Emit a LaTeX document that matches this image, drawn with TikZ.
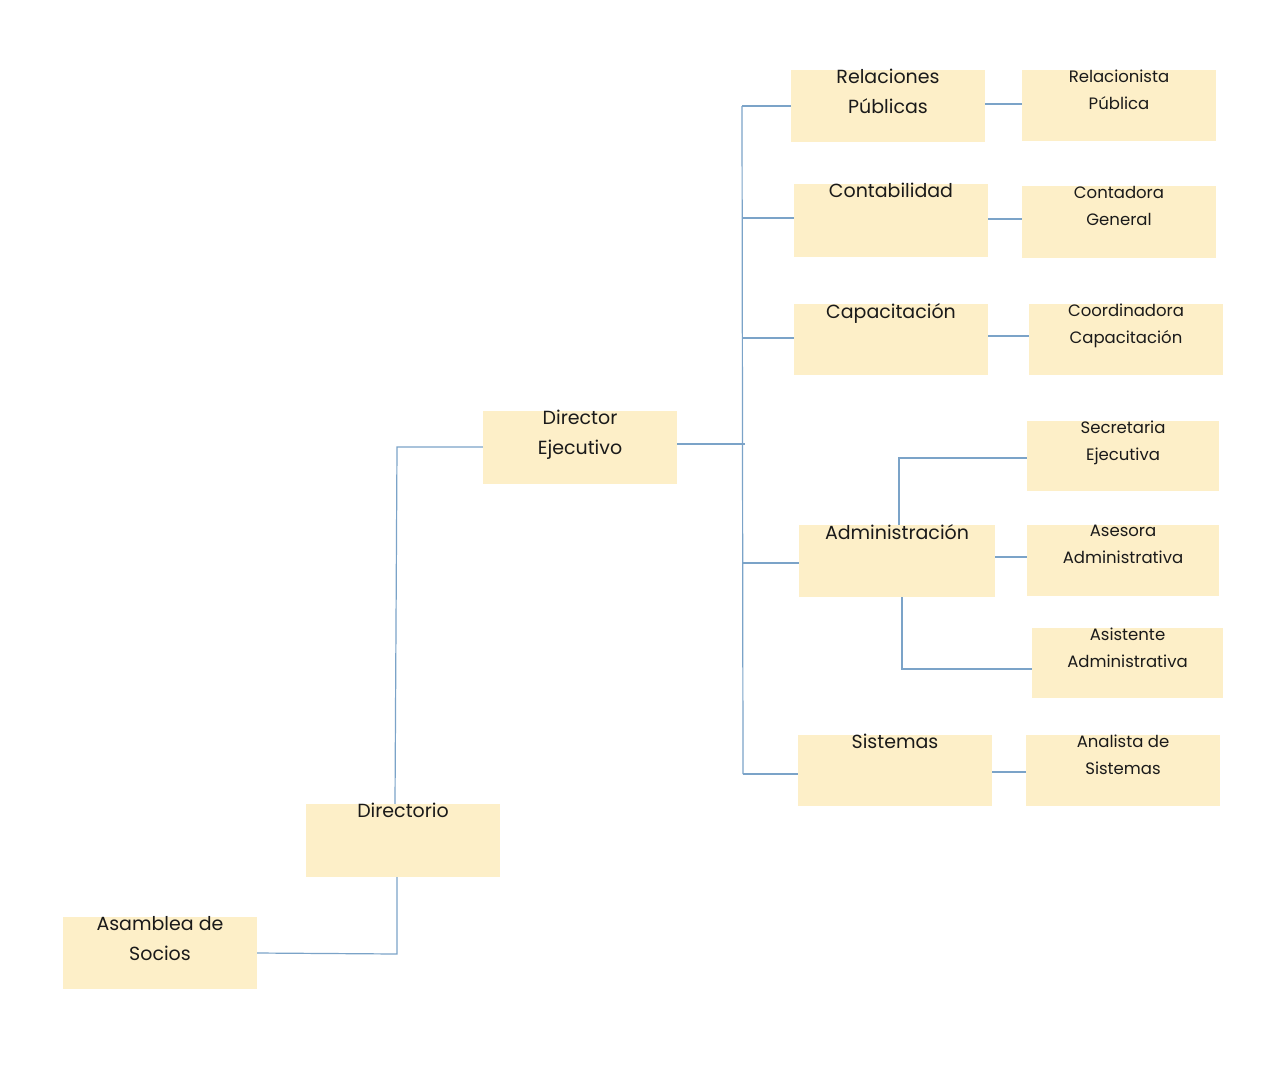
\documentclass[tikz,border=0pt]{standalone}
\usepackage{fontspec}
\setmainfont{Poppins}
\begin{document}
\begin{tikzpicture}[x=1pt,y=-1pt,
  bx/.style={fill=boxc,draw=none,inner sep=0pt},
  ln/.style={draw=linec,line width=1.2pt},
  big/.style={font=\fontsize{19}{30}\selectfont\color{txt},align=center,anchor=north},
  sm/.style={font=\fontsize{16.5}{27}\selectfont\color{txt},align=center,anchor=north}]
\definecolor{boxc}{HTML}{FDEFC8}
\definecolor{linec}{HTML}{7BA3C8}
\definecolor{txt}{HTML}{1A1A1A}
\useasboundingbox (0,0) rectangle (1274,1072);
\newcommand{\bxx}[6]{\node[bx,minimum width=#4-#2,minimum height=#5-#3] (#1) at ({(#2+#4)/2},{(#3+#5)/2}) {};}
\bxx{asa}{63}{917}{257}{989}{}
\bxx{dir}{306}{804}{500}{877}{}
\bxx{de}{483}{411}{677}{484}{}
\bxx{rp}{791}{70}{985}{142}{}
\bxx{rpa}{1022}{70}{1216}{141}{}
\bxx{con}{794}{184}{988}{257}{}
\bxx{cg}{1022}{186}{1216}{258}{}
\bxx{cap}{794}{304}{988}{375}{}
\bxx{cc}{1029}{304}{1223}{375}{}
\bxx{se}{1027}{421}{1219}{491}{}
\bxx{adm}{799}{525}{995}{597}{}
\bxx{aa}{1027}{525}{1219}{596}{}
\bxx{asi}{1032}{628}{1223}{698}{}
\bxx{sis}{798}{735}{992}{806}{}
\bxx{an}{1026}{735}{1220}{806}{}
\node[big] (t1) at ([yshift=4]asa.north) {Asamblea de\\Socios};
\node[big] (t2) at ([yshift=4]dir.north) {Directorio};
\node[big] (t3) at ([yshift=4]de.north) {Director\\Ejecutivo};
\node[big] (t4) at ([yshift=4]rp.north) {Relaciones\\Públicas};
\node[big] (t5) at ([yshift=4]con.north) {Contabilidad};
\node[big] (t6) at ([yshift=4]cap.north) {Capacitación};
\node[big] (t7) at ([yshift=4]adm.north) {Administración};
\node[big] (t8) at ([yshift=4]sis.north) {Sistemas};
\node[sm] (s1) at ([yshift=3]rpa.north) {Relacionista\\Pública};
\node[sm] (s2) at ([yshift=3]cg.north) {Contadora\\General};
\node[sm] (s3) at ([yshift=3]cc.north) {Coordinadora\\Capacitación};
\node[sm] (s4) at ([yshift=3]se.north) {Secretaria\\Ejecutiva};
\node[sm] (s5) at ([yshift=3]aa.north) {Asesora\\Administrativa};
\node[sm] (s6) at ([yshift=3]asi.north) {Asistente\\Administrativa};
\node[sm] (s7) at ([yshift=3]an.north) {Analista de\\Sistemas};
\coordinate (b1) at (742,106);
\coordinate (b2) at (743,774);
\draw[ln] (asa.east) -- (397,954) -- (dir.south -| 397,0);
\draw[ln] (dir.north -| 395,0) -- (397,447) -- (de.west |- 0,447);
\draw[ln] (de.east |- 0,444) -- (745,444);
\draw[ln] (b1) -- (b2);
\draw[ln] (b1) -- (rp.west |- b1);
\draw[ln] (742,218) -- (con.west |- 0,218);
\draw[ln] (743,338) -- (cap.west |- 0,338);
\draw[ln] (743,563) -- (adm.west |- 0,563);
\draw[ln] (b2) -- (sis.west |- b2);
\draw[ln] (rp.east |- 0,104) -- (rpa.west |- 0,104);
\draw[ln] (con.east |- 0,219) -- (cg.west |- 0,219);
\draw[ln] (cap.east |- 0,336) -- (cc.west |- 0,336);
\draw[ln] (adm.east |- 0,557) -- (aa.west |- 0,557);
\draw[ln] (sis.east |- 0,772) -- (an.west |- 0,772);
\draw[ln] (adm.north -| 899,0) -- (899,458) -- (se.west |- 0,458);
\draw[ln] (adm.south -| 902,0) -- (902,669) -- (asi.west |- 0,669);
\end{tikzpicture}
\end{document}
